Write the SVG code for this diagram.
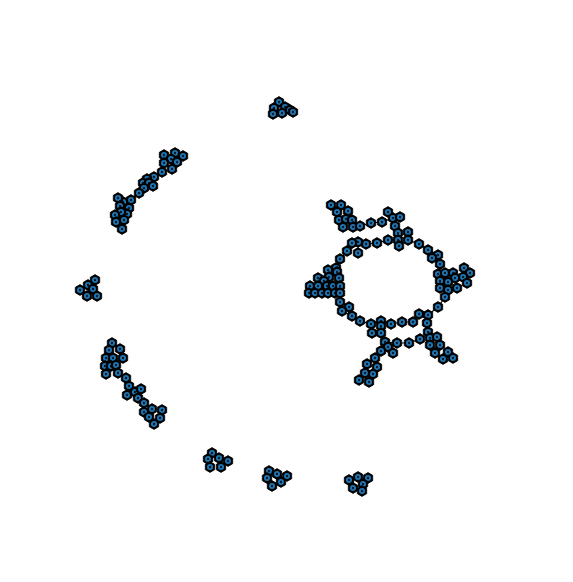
<svg xmlns="http://www.w3.org/2000/svg" xmlns:xlink="http://www.w3.org/1999/xlink" width="573" height="582" viewBox="0 0 573 582">
<style>
.e{stroke:#000;stroke-width:1.2;fill:none}
</style>
<defs>
<g id="nd">
<polygon points="0,-5.4 4.7,-2.7 4.7,2.7 0,5.4 -4.7,2.7 -4.7,-2.7" fill="#000" stroke="#000" stroke-width="0.8" stroke-linejoin="round"/>
<circle r="3" fill="#1f77b4"/>
<circle r="1.2" fill="#0a1a2a"/>
</g>
</defs>
<rect width="573" height="582" fill="#fff"/>
<g id="connectors">
<polyline class="e" points="162,172 154,177 147,179 143,183 139,193 131,200 123,202"/>
<polyline class="e" points="353,227 360,226 371,223 382,222 393,218"/>
<polyline class="e" points="352,243 358,242 366,244 377,243 388,240 398,240"/>
<polyline class="e" points="347,252 340,259 336,268 328,270"/>
<polyline class="e" points="340,293 340,302 349,307 352,316 360,321 371,324 381,321 391,324 402,322 413,322 419,314 428,315 438,307 445,297"/>
<polyline class="e" points="408,240 419,244 428,250 438,255 440,264 438,274"/>
<polyline class="e" points="381,333 385,342 397,343 409,343 420,339"/>
<polyline class="e" points="385,342 381,351 375,358 367,364 365,373 359,380"/>
<polyline class="e" points="427,323 428,332 430,338"/>
<polyline class="e" points="118,373 126,378 129,386 127,395 135,392 138,398 144,403 144,412"/>
</g>
<g id="nodes">
<g id="t1"><use href="#nd" x="279" y="102"/></g>
<g id="t2"><use href="#nd" x="274" y="108"/></g>
<g id="t3"><use href="#nd" x="285" y="107"/></g>
<g id="t4"><use href="#nd" x="273" y="114"/></g>
<g id="t5"><use href="#nd" x="282" y="113"/></g>
<g id="t6"><use href="#nd" x="290" y="110"/></g>
<g id="t7"><use href="#nd" x="293" y="112"/></g>

<g id="a1"><use href="#nd" x="164" y="155"/></g>
<g id="a2"><use href="#nd" x="175" y="153"/></g>
<g id="a3"><use href="#nd" x="183" y="156"/></g>
<g id="a4"><use href="#nd" x="171" y="159"/></g>
<g id="a5"><use href="#nd" x="164" y="163"/></g>
<g id="a6"><use href="#nd" x="177" y="162"/></g>
<g id="a7"><use href="#nd" x="172" y="169"/></g>
<g id="a8"><use href="#nd" x="162" y="172"/></g>
<g id="a9"><use href="#nd" x="154" y="177"/></g>
<g id="a10"><use href="#nd" x="147" y="179"/></g>
<g id="a11"><use href="#nd" x="143" y="183"/></g>
<g id="a12"><use href="#nd" x="149" y="183"/></g>
<g id="a13"><use href="#nd" x="153" y="186"/></g>
<g id="a14"><use href="#nd" x="144" y="188"/></g>
<g id="a15"><use href="#nd" x="139" y="193"/></g>
<g id="a16"><use href="#nd" x="131" y="200"/></g>
<g id="a17"><use href="#nd" x="123" y="202"/></g>
<g id="a18"><use href="#nd" x="118" y="198"/></g>
<g id="a19"><use href="#nd" x="120" y="206"/></g>
<g id="a20"><use href="#nd" x="129" y="208"/></g>
<g id="a21"><use href="#nd" x="127" y="214"/></g>
<g id="a22"><use href="#nd" x="121" y="212"/></g>
<g id="a23"><use href="#nd" x="115" y="215"/></g>
<g id="a24"><use href="#nd" x="116" y="222"/></g>
<g id="a25"><use href="#nd" x="124" y="220"/></g>
<g id="a26"><use href="#nd" x="122" y="229"/></g>

<g id="b1"><use href="#nd" x="95" y="280"/></g>
<g id="b2"><use href="#nd" x="88" y="285"/></g>
<g id="b3"><use href="#nd" x="80" y="290"/></g>
<g id="b4"><use href="#nd" x="93" y="289"/></g>
<g id="b5"><use href="#nd" x="87" y="296"/></g>
<g id="b6"><use href="#nd" x="97" y="296"/></g>

<g id="c1"><use href="#nd" x="112" y="343"/></g>
<g id="c2"><use href="#nd" x="109" y="350"/></g>
<g id="c3"><use href="#nd" x="120" y="349"/></g>
<g id="c4"><use href="#nd" x="106" y="358"/></g>
<g id="c5"><use href="#nd" x="113" y="358"/></g>
<g id="c6"><use href="#nd" x="123" y="358"/></g>
<g id="c7"><use href="#nd" x="105" y="366"/></g>
<g id="c8"><use href="#nd" x="111" y="366"/></g>
<g id="c9"><use href="#nd" x="116" y="365"/></g>
<g id="c10"><use href="#nd" x="106" y="374"/></g>
<g id="c11"><use href="#nd" x="118" y="373"/></g>
<g id="c12"><use href="#nd" x="126" y="378"/></g>
<g id="c13"><use href="#nd" x="129" y="386"/></g>
<g id="c14"><use href="#nd" x="127" y="395"/></g>
<g id="c15"><use href="#nd" x="135" y="392"/></g>
<g id="c16"><use href="#nd" x="141" y="389"/></g>
<g id="c17"><use href="#nd" x="138" y="398"/></g>
<g id="c18"><use href="#nd" x="144" y="403"/></g>
<g id="c19"><use href="#nd" x="144" y="412"/></g>
<g id="c20"><use href="#nd" x="152" y="409"/></g>
<g id="c21"><use href="#nd" x="162" y="410"/></g>
<g id="c22"><use href="#nd" x="149" y="417"/></g>
<g id="c23"><use href="#nd" x="160" y="418"/></g>
<g id="c24"><use href="#nd" x="154" y="424"/></g>

<g id="d1"><use href="#nd" x="212" y="453"/></g>
<g id="d2"><use href="#nd" x="208" y="459"/></g>
<g id="d3"><use href="#nd" x="219" y="458"/></g>
<g id="d4"><use href="#nd" x="228" y="461"/></g>
<g id="d5"><use href="#nd" x="210" y="467"/></g>
<g id="d6"><use href="#nd" x="221" y="467"/></g>

<g id="e1"><use href="#nd" x="269" y="471"/></g>
<g id="e2"><use href="#nd" x="277" y="474"/></g>
<g id="e3"><use href="#nd" x="287" y="476"/></g>
<g id="e4"><use href="#nd" x="267" y="478"/></g>
<g id="e5"><use href="#nd" x="281" y="482"/></g>
<g id="e6"><use href="#nd" x="272" y="486"/></g>

<g id="f1"><use href="#nd" x="349" y="480"/></g>
<g id="f2"><use href="#nd" x="358" y="477"/></g>
<g id="f3"><use href="#nd" x="368" y="478"/></g>
<g id="f4"><use href="#nd" x="363" y="484"/></g>
<g id="f5"><use href="#nd" x="353" y="488"/></g>
<g id="f6"><use href="#nd" x="362" y="491"/></g>

<g id="r1"><use href="#nd" x="331" y="205"/></g>
<g id="r2"><use href="#nd" x="341" y="205"/></g>
<g id="r3"><use href="#nd" x="337" y="212"/></g>
<g id="r4"><use href="#nd" x="348" y="211"/></g>
<g id="r5"><use href="#nd" x="339" y="220"/></g>
<g id="r6"><use href="#nd" x="346" y="219"/></g>
<g id="r7"><use href="#nd" x="352" y="220"/></g>
<g id="r8"><use href="#nd" x="343" y="227"/></g>
<g id="r9"><use href="#nd" x="353" y="227"/></g>
<g id="r10"><use href="#nd" x="360" y="226"/></g>
<g id="r11"><use href="#nd" x="371" y="223"/></g>
<g id="r12"><use href="#nd" x="382" y="222"/></g>
<g id="r13"><use href="#nd" x="388" y="212"/></g>
<g id="r14"><use href="#nd" x="393" y="218"/></g>
<g id="r15"><use href="#nd" x="400" y="217"/></g>
<g id="r16"><use href="#nd" x="395" y="226"/></g>
<g id="r17"><use href="#nd" x="398" y="233"/></g>
<g id="r18"><use href="#nd" x="408" y="232"/></g>
<g id="r19"><use href="#nd" x="398" y="240"/></g>
<g id="r20"><use href="#nd" x="408" y="240"/></g>
<g id="r21"><use href="#nd" x="399" y="246"/></g>
<g id="r22"><use href="#nd" x="388" y="240"/></g>
<g id="r23"><use href="#nd" x="377" y="243"/></g>
<g id="r24"><use href="#nd" x="366" y="244"/></g>
<g id="r25"><use href="#nd" x="358" y="242"/></g>
<g id="r26"><use href="#nd" x="352" y="243"/></g>
<g id="r27"><use href="#nd" x="347" y="251"/></g>
<g id="r28"><use href="#nd" x="358" y="253"/></g>
<g id="r29"><use href="#nd" x="340" y="259"/></g>
<g id="r30"><use href="#nd" x="336" y="268"/></g>
<g id="r31"><use href="#nd" x="328" y="270"/></g>
<g id="r32"><use href="#nd" x="337" y="272"/></g>
<g id="r33"><use href="#nd" x="318" y="278"/></g>
<g id="r34"><use href="#nd" x="329" y="277"/></g>
<g id="r35"><use href="#nd" x="339" y="278"/></g>
<g id="r36"><use href="#nd" x="324" y="281"/></g>
<g id="r37"><use href="#nd" x="310" y="286"/></g>
<g id="r38"><use href="#nd" x="318" y="286"/></g>
<g id="r39"><use href="#nd" x="327" y="286"/></g>
<g id="r40"><use href="#nd" x="333" y="286"/></g>
<g id="r41"><use href="#nd" x="340" y="286"/></g>
<g id="r42"><use href="#nd" x="309" y="293"/></g>
<g id="r43"><use href="#nd" x="315" y="293"/></g>
<g id="r44"><use href="#nd" x="322" y="293"/></g>
<g id="r45"><use href="#nd" x="328" y="293"/></g>
<g id="r46"><use href="#nd" x="335" y="293"/></g>
<g id="r47"><use href="#nd" x="340" y="293"/></g>
<g id="r48"><use href="#nd" x="340" y="302"/></g>
<g id="r49"><use href="#nd" x="349" y="307"/></g>
<g id="r50"><use href="#nd" x="342" y="311"/></g>
<g id="r51"><use href="#nd" x="352" y="316"/></g>
<g id="r52"><use href="#nd" x="360" y="321"/></g>
<g id="r53"><use href="#nd" x="371" y="324"/></g>
<g id="r54"><use href="#nd" x="381" y="321"/></g>
<g id="r55"><use href="#nd" x="381" y="326"/></g>
<g id="r56"><use href="#nd" x="372" y="333"/></g>
<g id="r57"><use href="#nd" x="381" y="333"/></g>
<g id="r58"><use href="#nd" x="391" y="324"/></g>
<g id="r59"><use href="#nd" x="402" y="322"/></g>
<g id="r60"><use href="#nd" x="413" y="322"/></g>
<g id="r61"><use href="#nd" x="419" y="314"/></g>
<g id="r62"><use href="#nd" x="428" y="315"/></g>
<g id="r63"><use href="#nd" x="438" y="307"/></g>
<g id="r64"><use href="#nd" x="427" y="323"/></g>
<g id="r65"><use href="#nd" x="428" y="332"/></g>
<g id="r66"><use href="#nd" x="420" y="339"/></g>
<g id="r67"><use href="#nd" x="430" y="338"/></g>
<g id="r68"><use href="#nd" x="437" y="337"/></g>
<g id="r69"><use href="#nd" x="430" y="345"/></g>
<g id="r70"><use href="#nd" x="440" y="345"/></g>
<g id="r71"><use href="#nd" x="435" y="353"/></g>
<g id="r72"><use href="#nd" x="448" y="352"/></g>
<g id="r73"><use href="#nd" x="443" y="359"/></g>
<g id="r74"><use href="#nd" x="453" y="358"/></g>
<g id="r75"><use href="#nd" x="409" y="343"/></g>
<g id="r76"><use href="#nd" x="397" y="343"/></g>
<g id="r77"><use href="#nd" x="385" y="342"/></g>
<g id="r78"><use href="#nd" x="388" y="347"/></g>
<g id="r79"><use href="#nd" x="393" y="353"/></g>
<g id="r80"><use href="#nd" x="381" y="351"/></g>
<g id="r81"><use href="#nd" x="375" y="358"/></g>
<g id="r82"><use href="#nd" x="367" y="364"/></g>
<g id="r83"><use href="#nd" x="377" y="367"/></g>
<g id="r84"><use href="#nd" x="365" y="373"/></g>
<g id="r85"><use href="#nd" x="373" y="374"/></g>
<g id="r86"><use href="#nd" x="359" y="380"/></g>
<g id="r87"><use href="#nd" x="369" y="382"/></g>
<g id="r88"><use href="#nd" x="419" y="244"/></g>
<g id="r89"><use href="#nd" x="428" y="250"/></g>
<g id="r90"><use href="#nd" x="438" y="255"/></g>
<g id="r91"><use href="#nd" x="432" y="258"/></g>
<g id="r92"><use href="#nd" x="440" y="264"/></g>
<g id="r93"><use href="#nd" x="438" y="274"/></g>
<g id="r94"><use href="#nd" x="445" y="273"/></g>
<g id="r95"><use href="#nd" x="453" y="273"/></g>
<g id="r96"><use href="#nd" x="464" y="268"/></g>
<g id="r97"><use href="#nd" x="470" y="273"/></g>
<g id="r98"><use href="#nd" x="463" y="277"/></g>
<g id="r99"><use href="#nd" x="467" y="283"/></g>
<g id="r100"><use href="#nd" x="455" y="278"/></g>
<g id="r101"><use href="#nd" x="448" y="282"/></g>
<g id="r102"><use href="#nd" x="440" y="281"/></g>
<g id="r103"><use href="#nd" x="440" y="288"/></g>
<g id="r104"><use href="#nd" x="448" y="290"/></g>
<g id="r105"><use href="#nd" x="457" y="288"/></g>
<g id="r106"><use href="#nd" x="445" y="297"/></g>
</g>
</svg>
